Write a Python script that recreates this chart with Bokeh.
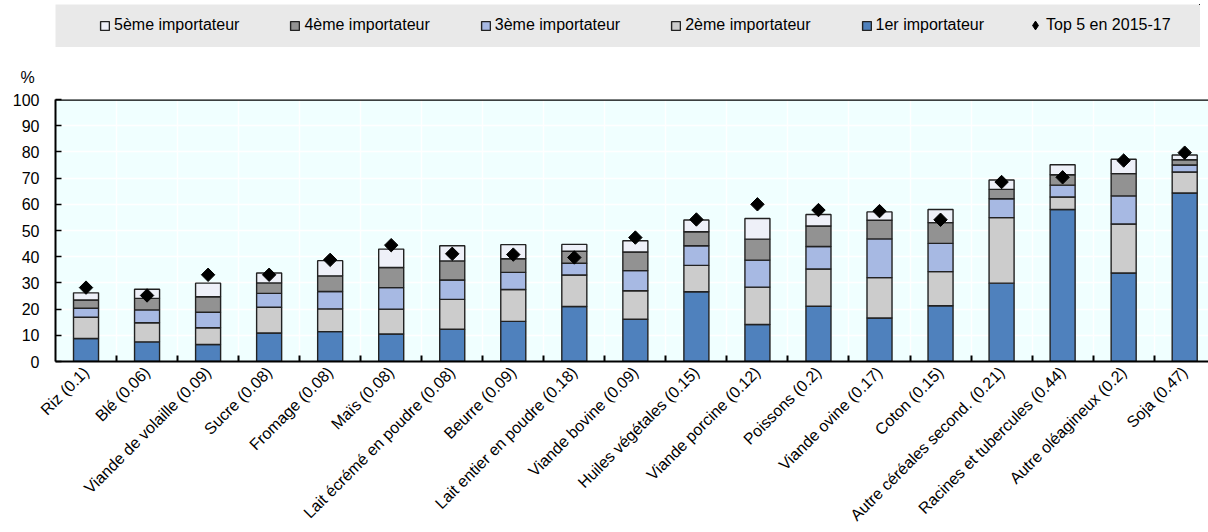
import math
from bokeh.plotting import figure
from bokeh.models import (Range1d, FixedTicker, Legend, LegendItem, Title, Span,
                          ColumnDataSource)
from bokeh.layouts import column
from bokeh.embed import file_html
from bokeh.resources import INLINE

categories = ["Riz (0.1)", "Blé (0.06)", "Viande de volaille (0.09)", "Sucre (0.08)",
              "Fromage (0.08)", "Maïs (0.08)", "Lait écrémé en poudre (0.08)",
              "Beurre (0.09)", "Lait entier en poudre (0.18)", "Viande bovine (0.09)",
              "Huiles végétales (0.15)", "Viande porcine (0.12)", "Poissons (0.2)",
              "Viande ovine (0.17)", "Coton (0.15)", "Autre céréales second. (0.21)",
              "Racines et tubercules (0.44)", "Autre oléagineux (0.2)", "Soja (0.47)"]

imp1 = [8.8, 7.5, 6.5, 10.9, 11.4, 10.5, 12.3, 15.3, 21.0, 16.1, 26.6, 14.1, 21.1,
        16.6, 21.3, 29.9, 58.0, 33.8, 64.3]
imp2 = [8.1, 7.3, 6.4, 9.8, 8.7, 9.5, 11.4, 12.2, 12.0, 10.9, 10.1, 14.3, 14.2,
        15.4, 13.0, 25.0, 4.8, 18.7, 8.0]
imp3 = [3.4, 4.9, 5.9, 5.3, 6.6, 8.2, 7.4, 6.5, 4.5, 7.7, 7.5, 10.3, 8.6,
        14.8, 10.8, 7.2, 4.5, 10.7, 2.7]
imp4 = [3.2, 4.4, 5.9, 4.0, 6.0, 7.7, 7.3, 5.2, 4.6, 7.1, 5.3, 8.0, 7.8,
        7.1, 7.9, 3.6, 4.0, 8.5, 2.0]
imp5 = [2.7, 3.5, 5.2, 3.8, 5.8, 7.0, 5.8, 5.4, 2.6, 4.3, 4.5, 7.9, 4.4,
        3.2, 5.0, 3.6, 3.8, 5.5, 1.8]
top5_2015_17 = [28.2, 25.2, 33.1, 33.1, 38.8, 44.4, 41.1, 40.8, 39.7, 47.3, 54.2,
                60.0, 57.8, 57.4, 54.1, 68.5, 70.3, 76.7, 79.7]

series_names = ["1er importateur", "2ème importateur", "3ème importateur",
                "4ème importateur", "5ème importateur"]
top_name = "Top 5 en 2015-17"
y_unit = "%"
y_ticks = [0, 10, 20, 30, 40, 50, 60, 70, 80, 90, 100]

colors = ["#4F81BD", "#CCCCCC", "#A7B9E3", "#929292", "#EEF0F8"]
FONT = "Liberation Sans"
FS = "16px"
EDGE = "#222222"

n = len(categories)
xs = [i + 0.5 for i in range(n)]
src = ColumnDataSource(dict(x=xs, s1=imp1, s2=imp2, s3=imp3, s4=imp4, s5=imp5,
                            top=top5_2015_17))
stack_cols = ["s1", "s2", "s3", "s4", "s5"]


def draw_bars(fig):
    return fig.vbar_stack(stack_cols, x="x", width=0.41, source=src,
                          fill_color=colors, line_color=EDGE, line_width=1.4)


# ---------------- main figure ----------------
p = figure(width=1208, height=485, x_range=Range1d(0, 18.89), y_range=Range1d(0, 100),
           toolbar_location=None, output_backend="svg",
           min_border_left=55, min_border_right=0, min_border_top=52,
           min_border_bottom=167, background_fill_color="#F0FFFF",
           outline_line_color=None)

draw_bars(p)
p.scatter(x="x", y="top", source=src, marker="square", angle=math.pi / 4,
          size=9.5, fill_color="black", line_color="black")

p.add_layout(Span(location=100, dimension="width", line_color="black", line_width=2.5))

# x axis
xax = p.xaxis[0]
xax.ticker = FixedTicker(ticks=xs, minor_ticks=list(range(1, n)))
xax.major_label_overrides = {x: c for x, c in zip(xs, categories)}
xax.major_label_orientation = math.pi / 4
xax.major_tick_line_color = None
xax.minor_tick_in = 6
xax.minor_tick_out = 0
xax.minor_tick_line_color = "black"
xax.minor_tick_line_width = 2
xax.axis_line_width = 2
xax.axis_line_color = "black"
xax.major_label_text_font = FONT
xax.major_label_text_font_size = FS
xax.major_label_text_color = "black"
xax.major_label_standoff = 2

yax = p.yaxis[0]
yax.ticker = FixedTicker(ticks=y_ticks)
yax.major_tick_in = 6
yax.major_tick_out = 0
yax.minor_tick_line_color = None
yax.major_tick_line_color = "black"
yax.major_tick_line_width = 1.5
yax.axis_line_width = 2
yax.axis_line_color = "black"
yax.major_label_text_font = FONT
yax.major_label_text_font_size = FS
yax.major_label_text_color = "black"
yax.major_label_standoff = 16

p.xgrid.ticker = FixedTicker(ticks=list(range(1, n)))
p.xgrid.grid_line_color = "white"
p.xgrid.grid_line_width = 1.5
p.ygrid.grid_line_color = "white"
p.ygrid.grid_line_width = 1.5

p.add_layout(Title(text=y_unit, align="left", offset=-35, standoff=27,
                   text_font=FONT, text_font_size=FS, text_font_style="normal",
                   text_color="black"), "above")

# ---------------- legend figure ----------------
lf = figure(width=1200, height=47, x_range=Range1d(-100, -99), y_range=Range1d(-100, -99),
            x_axis_type=None, y_axis_type=None, toolbar_location=None,
            output_backend="svg", min_border_left=52, min_border_top=4,
            min_border_right=0, min_border_bottom=0, outline_line_color=None,
            background_fill_color="#E9E9E9", border_fill_color="white")
lbars = draw_bars(lf)
ldots = lf.scatter(x="x", y="top", source=src, marker="diamond", size=12,
                   fill_color="black", line_color="black")

items = [LegendItem(label=series_names[i], renderers=[lbars[i]]) for i in [4, 3, 2, 1, 0]]
leg = Legend(items=items, orientation="horizontal", location=(44, 12),
             background_fill_alpha=0, border_line_color=None, padding=0, margin=0,
             spacing=50, label_standoff=4, glyph_width=11, glyph_height=11,
             label_height=20, label_text_font=FONT, label_text_font_size=FS,
             label_text_color="black")
lf.add_layout(leg)

leg2 = Legend(items=[LegendItem(label=top_name, renderers=[ldots])],
              orientation="horizontal", location=(969, 11),
              background_fill_alpha=0, border_line_color=None, padding=0, margin=0,
              label_standoff=0, glyph_width=22, glyph_height=22,
              label_height=22, label_text_font=FONT, label_text_font_size=FS,
              label_text_color="black")
lf.add_layout(leg2)

layout = column(lf, p, spacing=0)
open("out.html", "w").write(file_html(layout, INLINE))
